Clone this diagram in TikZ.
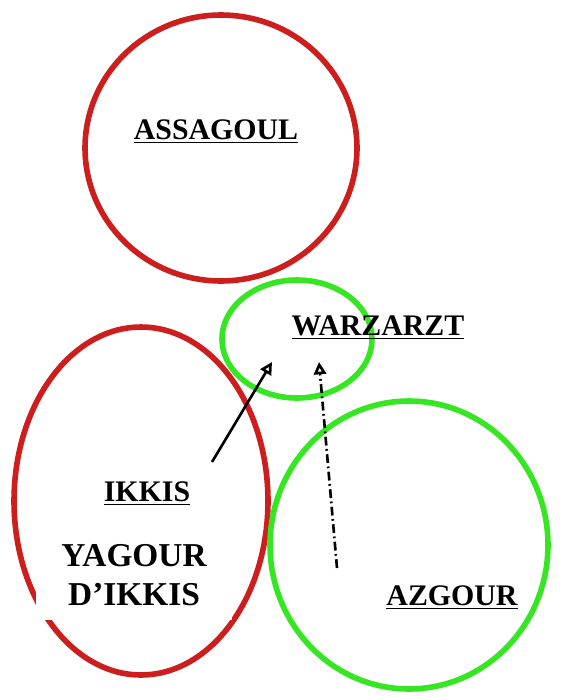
\documentclass[tikz,border=0pt]{standalone}
\usepackage{fontspec}
\setmainfont{Liberation Serif}
\usepackage{xcolor}
\usepackage{tikz}
\usetikzlibrary{shapes.geometric,arrows.meta}

\definecolor{zonered}{RGB}{205,30,30}
\definecolor{zonegreen}{RGB}{55,230,35}

\begin{document}
\begin{tikzpicture}[
  x=0.02cm, y=-0.02cm,
  zone/.style={ellipse, draw, line width=3.2pt, inner sep=0pt, outer sep=0pt},
  redzone/.style={zone, draw=zonered},
  greenzone/.style={zone, draw=zonegreen},
  place/.style={font=\fontsize{17}{18}\selectfont\bfseries, inner sep=1pt},
  pointer/.style={line width=1.5pt, -{Triangle[open, length=7pt, width=7pt]}}
  ]
\useasboundingbox (0,0) rectangle (564,696);

% Zones
\node[greenzone, minimum width=3cm, minimum height=2.36cm] (warzarzt) at (297,339) {};
\node[redzone, minimum width=5.08cm, minimum height=6.96cm] (ikkis) at (141,501) {};
\node[greenzone, minimum width=5.56cm, minimum height=5.76cm] (azgour) at (409,545) {};
\node[redzone, minimum width=5.44cm, minimum height=5.32cm] (assagoul) at (221,148) {};

% Names
\node[place] (assagoul-name) at (216,132) {\underline{ASSAGOUL}};
\node[place] (warzarzt-name) at (378,328) {\underline{WARZARZT}};
\node[place] (ikkis-name) at (147,494) {\underline{IKKIS}};
\node[place] (azgour-name) at (452,598) {\underline{AZGOUR}};
\node[fill=white, align=center, minimum width=3.92cm, minimum height=1.8cm,
  font=\fontsize{19}{22}\selectfont\bfseries] (yagour) at (134,575) {YAGOUR\\D’IKKIS};

% Pointers
\coordinate (from-ikkis) at (212,462);
\coordinate (into-warz-a) at (272,362);
\coordinate (from-azgour) at (337,568);
\coordinate (into-warz-b) at (319,362);
\draw[pointer] (from-ikkis) -- (into-warz-a);
\draw[pointer, dash pattern=on 5pt off 2pt on 1pt off 2pt] (from-azgour) -- (into-warz-b);

\end{tikzpicture}
\end{document}
